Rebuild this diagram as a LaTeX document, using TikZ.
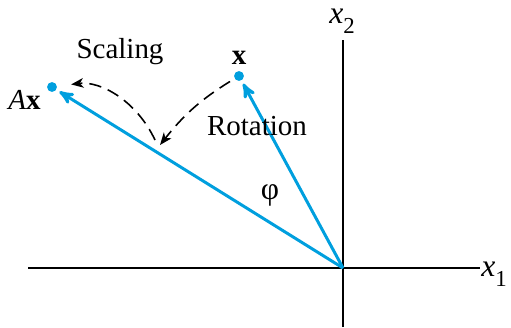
\documentclass[tikz,border=0pt]{standalone}
\usepackage{fontspec}
\setmainfont{Liberation Serif}
\usepackage{xcolor}
\usepackage{tikz}
\usetikzlibrary{arrows,arrows.meta,positioning}

\definecolor{vecblue}{RGB}{0,159,222}
\newcommand{\axname}[1]{{\fontsize{18}{20}\selectfont\textit{x}}\raisebox{-0.75ex}{\fontsize{13}{15}\selectfont #1}}

\begin{document}
\begin{tikzpicture}[
    x=0.02cm, y=-0.02cm,
    node distance=0.1cm and 0.1cm,
    axis/.style={draw, line width=0.8pt},
    vec/.style={draw, vecblue, line width=1.7pt, -stealth', shorten >=2pt},
    dot/.style={circle, fill=vecblue, inner sep=0pt, minimum size=5.6pt},
    move/.style={draw, dash pattern=on 7pt off 4pt, line width=0.9pt, -{Stealth[length=7pt, width=5.5pt, inset=2pt]}},
    lab/.style={font=\fontsize{16.5}{19}\selectfont, inner sep=1pt}
]
    \useasboundingbox (0,0) rectangle (511,328);

    % Axes
    \coordinate (O) at (343,268);
    \coordinate (x1l) at (28,268);
    \coordinate (x1r) at (480,268);
    \coordinate (x2b) at (343,327);
    \coordinate (x2t) at (343,40);
    \path [axis] (x1l) -- (x1r);
    \path [axis] (x2b) -- (x2t);
    \node [lab] (x1lab) at (494,274) {\axname{1}};
    \node [lab] (x2lab) at (342,21) {\axname{2}};

    % Points
    \node [dot] (xpt) at (239,76) {};
    \node [dot] (Axpt) at (52,87) {};
    \node [lab, above=0.08cm of xpt] (xlab) {\textbf{x}};
    \node [lab, left=0.08cm of Axpt, yshift=-0.25cm] (Axlab) {\textit{A}\textbf{x}};

    % Vectors
    \path [vec] (O) -- (xpt);
    \path [vec] (O) -- (Axpt);

    % Rotation and scaling
    \coordinate (turn) at (160,145);
    \coordinate (back) at (155,140);
    \path [move, shorten <=3pt] (xpt) to[bend right=10] (turn);
    \path [move, shorten >=8pt] (back) to[bend right=36] (Axpt);

    % Labels
    \node [lab] (scaling) at (120,52) {Scaling};
    \node [lab] (rotation) at (257,126) {Rotation};
    \node [lab, font=\fontsize{18}{20}\selectfont] (phi) at (270,195) {φ};
\end{tikzpicture}
\end{document}
